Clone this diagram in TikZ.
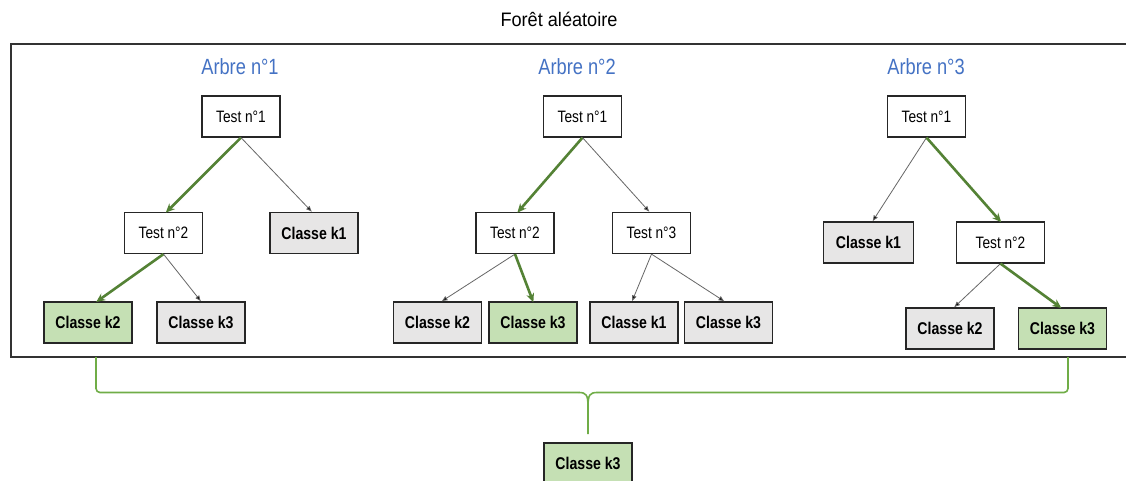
\documentclass[tikz,border=0pt]{standalone}
\usepackage{fontspec}
\setmainfont{Liberation Sans}
\usetikzlibrary{arrows.meta}
\definecolor{gdark}{HTML}{548235}
\definecolor{glight}{HTML}{C5E0B4}
\definecolor{gbrace}{HTML}{70AD47}
\definecolor{lgray}{HTML}{E7E6E6}
\definecolor{ablue}{HTML}{4472C4}
\newcommand{\nsx}[1]{\scalebox{0.83}[1]{#1}}
\tikzset{
  testbox/.style={draw=black!85, line width=1.2pt, fill=white, minimum width=78pt, minimum height=41pt, inner sep=0pt,
    font=\fontsize{16.5}{18}\selectfont},
  classbox/.style={draw=black!85, line width=1.2pt, fill=lgray, minimum width=88pt, minimum height=41pt, inner sep=0pt,
    font=\fontsize{17}{18}\selectfont\bfseries},
  winbox/.style={classbox, fill=glight},
  treelabel/.style={text=ablue, font=\fontsize{22}{24}\selectfont, inner sep=0pt},
  garrow/.style={draw=gdark, line width=2.6pt, -{Stealth[length=9pt,width=8pt]}, shorten >=-1pt},
  parrow/.style={draw=black!60, line width=0.8pt, -{Latex[length=6pt,width=5pt,fill=black]}},
  bracestyle/.style={draw=gbrace, line width=1.6pt, rounded corners=4pt}
}
\begin{document}
\begin{tikzpicture}[x=1pt,y=-1pt]
\useasboundingbox (0,0) rectangle (1126,480);
\clip (0,0) rectangle (1126,480);
\fill[white] (0,0) rectangle (1126,480);
% title and frame
\node[font=\fontsize{19.5}{22}\selectfont, inner sep=0pt] (title) at (559,19) {\scalebox{0.93}[1]{Forêt aléatoire}};
\draw[line width=1.5pt, draw=black!80] (1135,44) -- (11,44) -- (11,357) -- (1135,357);
\coordinate (frameR) at (1135,357);
% tree labels
\node[treelabel] (a1) at (240,67) {\nsx{Arbre n°1}};
\node[treelabel] (a2) at (577,67) {\nsx{Arbre n°2}};
\node[treelabel] (a3) at (926,67) {\nsx{Arbre n°3}};
% tree 1
\node[testbox] (t1a) at (241,116.5) {\nsx{Test n°1}};
\node[testbox] (t1b) at (163.5,233) {\nsx{Test n°2}};
\node[classbox] (t1k1) at (314,233) {\nsx{Classe k1}};
\node[winbox] (t1k2) at (88,322.5) {\nsx{Classe k2}};
\node[classbox] (t1k3) at (201,322.5) {\nsx{Classe k3}};
\draw[garrow] (t1a.south) -- ([xshift=3pt]t1b.north);
\draw[parrow] (t1a.south) -- ([xshift=-2pt]t1k1.north);
\draw[garrow] (t1b.south) -- ([xshift=9pt]t1k2.north);
\draw[parrow] (t1b.south) -- (t1k3.north);
% tree 2
\node[testbox] (t2a) at (582.5,116.5) {\nsx{Test n°1}};
\node[testbox] (t2b) at (515,233) {\nsx{Test n°2}};
\node[testbox] (t2c) at (651.5,233) {\nsx{Test n°3}};
\node[classbox] (t2k2) at (437.5,322.5) {\nsx{Classe k2}};
\node[winbox] (t2k3) at (533,322.5) {\nsx{Classe k3}};
\node[classbox] (t2k1) at (634,322.5) {\nsx{Classe k1}};
\node[classbox] (t2k3b) at (728.5,322.5) {\nsx{Classe k3}};
\draw[garrow] (t2a.south) -- ([xshift=3pt]t2b.north);
\draw[parrow] (t2a.south) -- ([xshift=-2pt]t2c.north);
\draw[parrow] (t2b.south) -- ([xshift=4pt]t2k2.north);
\draw[garrow] (t2b.south) -- (t2k3.north);
\draw[parrow] (t2c.south) -- ([xshift=-2pt]t2k1.north);
\draw[parrow] (t2c.south) -- ([xshift=-4pt]t2k3b.north);
% tree 3
\node[testbox] (t3a) at (926.5,116.5) {\nsx{Test n°1}};
\node[classbox, minimum width=90pt] (t3k1) at (868.5,242.5) {\nsx{Classe k1}};
\node[testbox, minimum width=88pt] (t3b) at (1000.5,242.5) {\nsx{Test n°2}};
\node[classbox] (t3k2) at (950,328.5) {\nsx{Classe k2}};
\node[winbox] (t3k3) at (1062.5,328.5) {\nsx{Classe k3}};
\draw[parrow] (t3a.south) -- ([xshift=4pt]t3k1.north);
\draw[garrow] (t3a.south) -- (t3b.north);
\draw[parrow] (t3b.south) -- ([xshift=4pt]t3k2.north);
\draw[garrow] (t3b.south) -- ([xshift=-2pt]t3k3.north);
% vote brace
\node[winbox] (final) at (588,463.5) {\nsx{Classe k3}};
\coordinate (bL) at (96,357);
\coordinate (bR) at (1068,357);
\draw[bracestyle] (bL) -- (96,392.5) -- (579,392.5);
\draw[bracestyle] (bR) -- (1068,392.5) -- (597,392.5);
\draw[draw=gbrace, line width=1.6pt] (579,392.5) .. controls (586,392.5) and (588,395) .. (588,406) -- (final.north |- 0,434);
\draw[draw=gbrace, line width=1.6pt] (597,392.5) .. controls (590,392.5) and (588,395) .. (588,406);
\end{tikzpicture}
\end{document}
